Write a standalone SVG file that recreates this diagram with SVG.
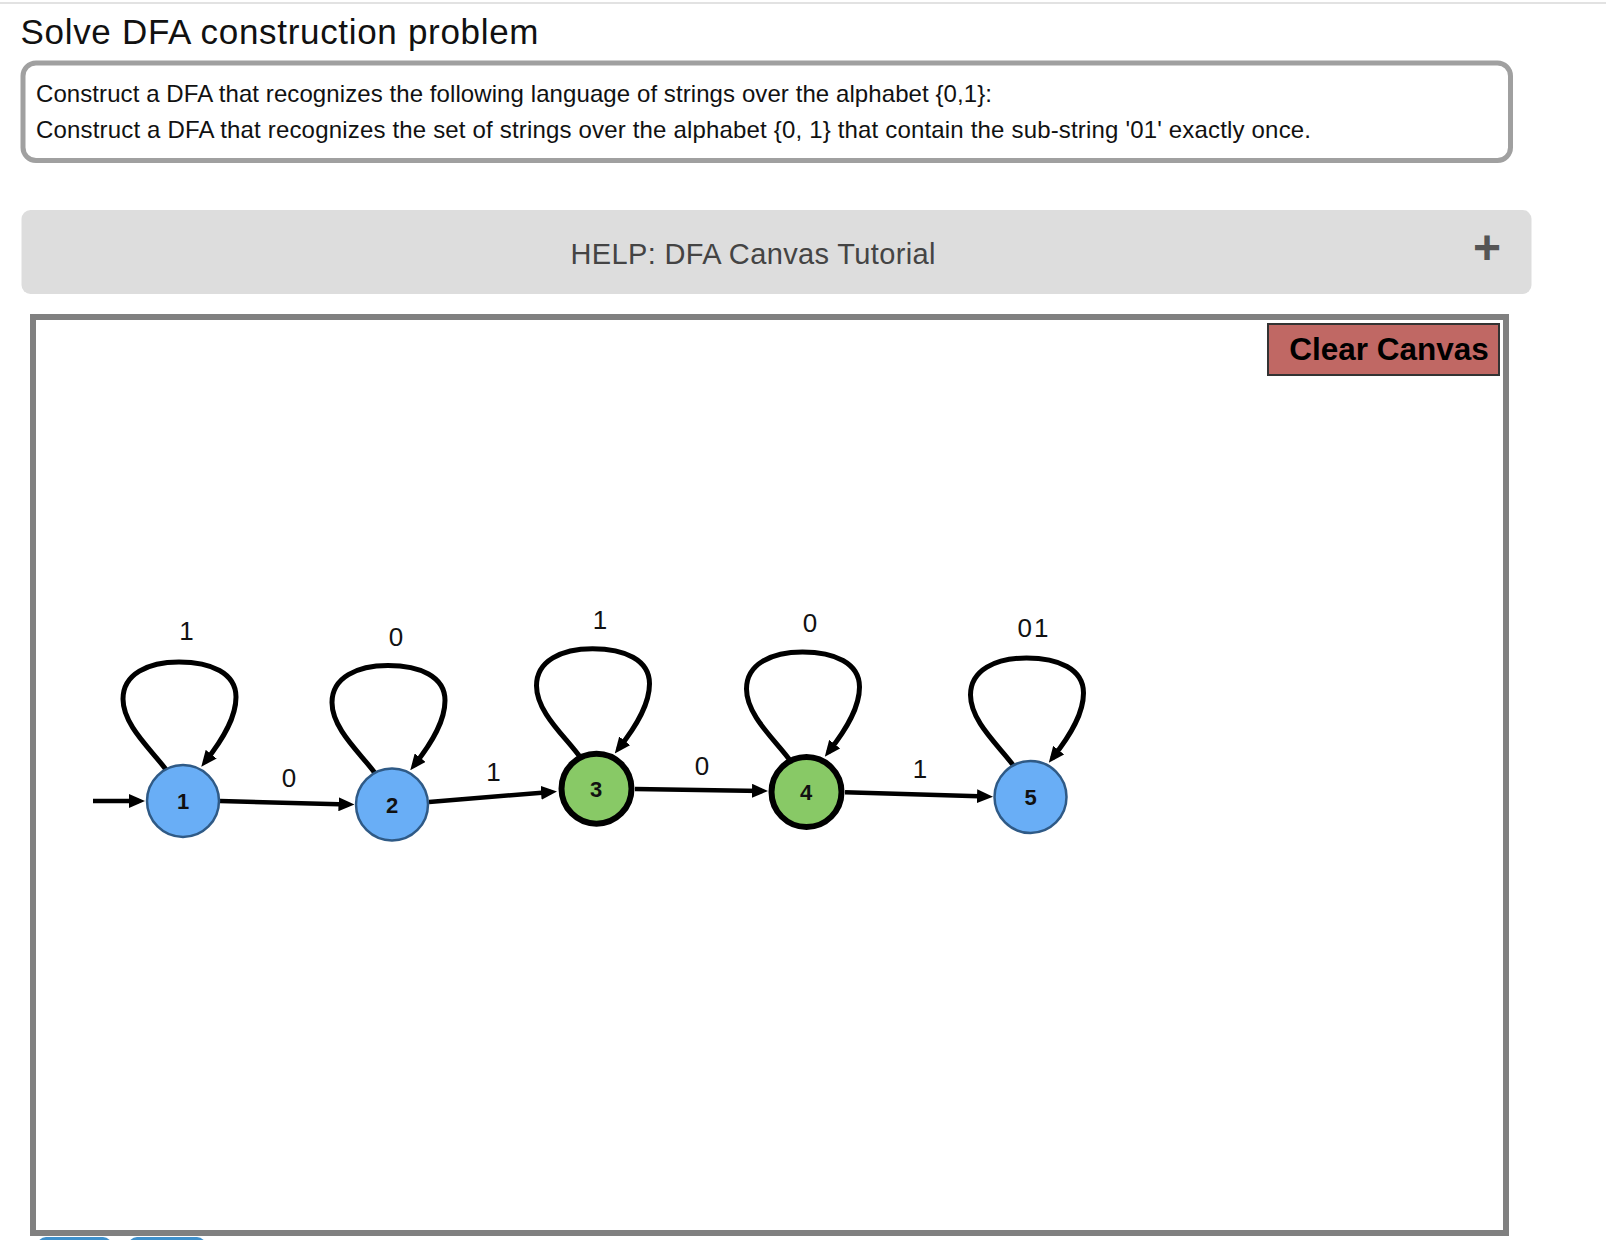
<svg xmlns="http://www.w3.org/2000/svg" width="1606" height="1240" viewBox="0 0 1606 1240">
<style>
.lbl{font-family:"Liberation Sans",Arial,sans-serif;font-size:26px;fill:#111;text-anchor:middle}
.nl{font-family:"Liberation Sans",Arial,sans-serif;font-size:22px;font-weight:bold;fill:#111;text-anchor:middle}
.blue{fill:#69aef6;stroke:#2f5a86;stroke-width:2.5}
.green{fill:#88c966;stroke:#000;stroke-width:6}
.edge{fill:none;stroke:#000;stroke-width:4.5}
.loop{fill:none;stroke:#000;stroke-width:5}
.txt{font-family:"Liberation Sans",Arial,sans-serif;fill:#111}
</style>
<defs>
<marker id="ah" viewBox="0 0 16 14" refX="10" refY="7" markerWidth="16" markerHeight="14" markerUnits="userSpaceOnUse" orient="auto">
<path d="M0,0 L16,7 L0,14 z" fill="#000"/>
</marker>
<path id="loopshape" d="M-16,-30 C-30,-50 -60,-75 -60,-102 C-60,-127 -35,-139 -4,-139 C28,-139 53,-128 53,-104 C53,-84 41,-63 22,-39"/>
</defs>
<rect x="0" y="0" width="1606" height="1240" fill="#fff"/>
<line x1="0" y1="3" x2="1606" y2="3" stroke="#e2e2e2" stroke-width="2"/>
<g id="header">
<text class="txt" x="20.5" y="44" font-size="35" textLength="518" lengthAdjust="spacing">Solve DFA construction problem</text>
<rect x="23" y="63" width="1487.5" height="97.5" rx="13" fill="#fff" stroke="#a0a0a0" stroke-width="5"/>
<text class="txt" x="36" y="102" font-size="24" textLength="956" lengthAdjust="spacing">Construct a DFA that recognizes the following language of strings over the alphabet {0,1}:</text>
<text class="txt" x="36" y="137.5" font-size="24" textLength="1275" lengthAdjust="spacing">Construct a DFA that recognizes the set of strings over the alphabet {0, 1} that contain the sub-string '01' exactly once.</text>
</g>
<g id="help">
<rect x="21.5" y="210" width="1510" height="84" rx="9" fill="#dddddd"/>
<text x="753" y="264" font-family="Liberation Sans, Arial, sans-serif" font-size="29" fill="#444" text-anchor="middle" textLength="365" lengthAdjust="spacing">HELP: DFA Canvas Tutorial</text>
<text x="1487" y="264" font-family="Liberation Sans, Arial, sans-serif" font-size="48" font-weight="bold" fill="#555" text-anchor="middle">+</text>
</g>
<g id="canvas">
<rect x="33" y="317" width="1473" height="916" fill="#fff" stroke="#808080" stroke-width="6"/>
</g>
<g id="clear-canvas">
<rect x="1268" y="324" width="231" height="51" fill="#c06864" stroke="#333" stroke-width="2"/>
<text x="1389" y="360" font-family="Liberation Sans, Arial, sans-serif" font-size="31.5" font-weight="bold" fill="#000" text-anchor="middle">Clear Canvas</text>
</g>
<g id="connectors">
<line class="edge" x1="93" y1="801" x2="139" y2="801" marker-end="url(#ah)"/>
<line class="edge" x1="220" y1="801" x2="348.5" y2="804.4" marker-end="url(#ah)"/>
<line class="edge" x1="429" y1="802" x2="551" y2="792" marker-end="url(#ah)"/>
<line class="edge" x1="635" y1="789" x2="762" y2="790.9" marker-end="url(#ah)"/>
<line class="edge" x1="845" y1="792.3" x2="987" y2="796.5" marker-end="url(#ah)"/>
<use href="#loopshape" class="loop" transform="translate(183,801)" marker-end="url(#ah)"/>
<use href="#loopshape" class="loop" transform="translate(392,804.5)" marker-end="url(#ah)"/>
<use href="#loopshape" class="loop" transform="translate(596.5,787.7)" marker-end="url(#ah)"/>
<use href="#loopshape" class="loop" transform="translate(806.5,791)" marker-end="url(#ah)"/>
<use href="#loopshape" class="loop" transform="translate(1030.5,797)" marker-end="url(#ah)"/>
<text class="lbl" x="186.5" y="640">1</text>
<text class="lbl" x="396" y="646">0</text>
<text class="lbl" x="600" y="629">1</text>
<text class="lbl" x="810" y="632">0</text>
<text class="lbl" x="1034" y="637" letter-spacing="2">01</text>
<text class="lbl" x="289" y="787">0</text>
<text class="lbl" x="493.5" y="781">1</text>
<text class="lbl" x="702" y="775">0</text>
<text class="lbl" x="920" y="778">1</text>
</g>
<g id="node1"><circle class="blue" cx="183" cy="801" r="36"/><text class="nl" x="183" y="809">1</text></g>
<g id="node2"><circle class="blue" cx="392" cy="804.5" r="36"/><text class="nl" x="392" y="812.5">2</text></g>
<g id="node3"><circle class="green" cx="596.5" cy="788.7" r="35"/><text class="nl" x="596" y="796.5">3</text></g>
<g id="node4"><circle class="green" cx="806.5" cy="792" r="35"/><text class="nl" x="806" y="800">4</text></g>
<g id="node5"><circle class="blue" cx="1030.5" cy="797" r="36"/><text class="nl" x="1030.5" y="805">5</text></g>
<g id="bottom-buttons">
<rect x="37" y="1237" width="75" height="20" rx="9" fill="#3f90cb"/>
<rect x="128" y="1237" width="78" height="20" rx="9" fill="#3f90cb"/>
</g>
</svg>
